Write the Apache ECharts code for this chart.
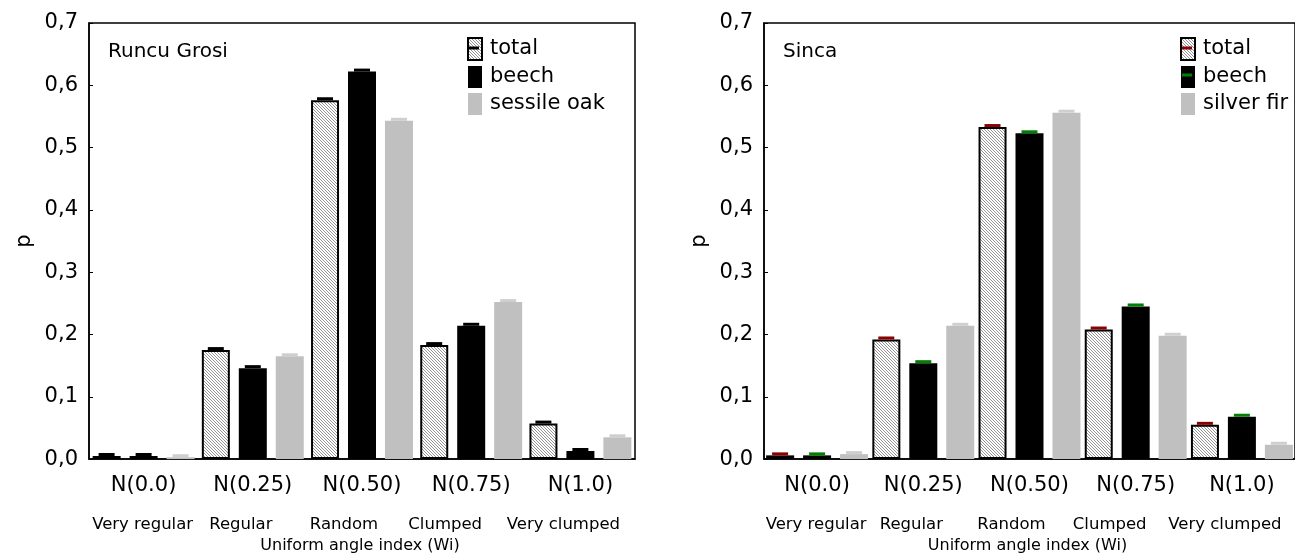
<!DOCTYPE html>
<html><head><meta charset="utf-8">
<script src="https://cdn.jsdelivr.net/npm/echarts@6/dist/echarts.min.js"></script>
<style>html,body{margin:0;padding:0;background:#fff}#c{width:1295px;height:559px}</style>
</head><body><div id="c"></div>
<script>
// ---- data ----
const categories = ['N(0.0)', 'N(0.25)', 'N(0.50)', 'N(0.75)', 'N(1.0)'];
const classLabels = ['Very regular', 'Regular', 'Random', 'Clumped', 'Very clumped'];
const xTitle = 'Uniform angle index (Wi)';
const yTitle = 'p';

const runcuTitle = 'Runcu Grosi';
const runcuNames = ['total', 'beech', 'sessile oak'];
const runcuTotal = [0.005, 0.175, 0.576, 0.183, 0.057];
const runcuBeech = [0.005, 0.146, 0.622, 0.214, 0.013];
const runcuOak   = [0.003, 0.165, 0.543, 0.252, 0.035];

const sincaTitle = 'Sinca';
const sincaNames = ['total', 'beech', 'silver fir'];
const sincaTotal = [0.006, 0.192, 0.533, 0.208, 0.055];
const sincaBeech = [0.006, 0.154, 0.523, 0.245, 0.068];
const sincaFir   = [0.008, 0.214, 0.556, 0.198, 0.023];

// ---- styling ----
const FONT = 'DejaVu Sans';
function hatchCanvas() {
  const n = 3;
  const c = document.createElement('canvas');
  c.width = n; c.height = n;
  const g = c.getContext('2d');
  g.fillStyle = '#ffffff'; g.fillRect(0, 0, n, n);
  g.fillStyle = '#939393';
  for (let i = 0; i < n; i++) g.fillRect(i, i, 1, 1);
  return c;
}
const hatch = { image: hatchCanvas(), repeat: 'repeat' };

// horizontal shift (px) of the class labels relative to the category centres
const classShift = [-1, -12, -18, -26, -17];

const BAR_W = 28, GAP = 9;
const panels = [
  { left: 89, title: runcuTitle, names: runcuNames, data: [runcuTotal, runcuBeech, runcuOak],
    caps: ['#000000', '#000000', '#cfcfcf'], legendLeft: 467, dash: ['#000000', null] },
  { left: 764, title: sincaTitle, names: sincaNames, data: [sincaTotal, sincaBeech, sincaFir],
    caps: ['#8b0000', '#008000', '#cfcfcf'], legendLeft: 1180, dash: ['#8b0000', '#008000'] }
];
const GRID_TOP = 23, GRID_H = 440, GRID_W = 546;
const LEG_TOP = 37, LEG_H = 22, LEG_GAP = 5;

const rich = {};
classShift.forEach((s, i) => {
  rich['c' + i] = { fontSize: 16.5, fontFamily: FONT, color: '#000',
    padding: s < 0 ? [0, -2 * s, 0, 0] : [0, 0, 0, 2 * s] };
});

const grid = [], xAxis = [], yAxis = [], series = [], legend = [], graphic = [];
panels.forEach((p, pi) => {
  grid.push({ left: p.left, top: GRID_TOP, width: GRID_W, height: GRID_H, show: true,
    borderColor: '#000', borderWidth: 1.5, backgroundColor: 'transparent' });
  xAxis.push({ type: 'category', gridIndex: pi, data: categories,
    axisLine: { lineStyle: { color: '#000', width: 1.5 } }, axisTick: { show: false },
    axisLabel: { color: '#000', fontSize: 21, fontFamily: FONT, margin: 16, interval: 0 } });
  xAxis.push({ type: 'category', gridIndex: pi, data: classLabels, position: 'bottom',
    axisLine: { show: false }, axisTick: { show: false },
    axisLabel: { interval: 0, margin: 57, rich,
      formatter: (v, i) => '{c' + i + '|' + v + '}' },
    name: xTitle, nameLocation: 'middle', nameGap: 78,
    nameTextStyle: { color: '#000', fontSize: 16, fontFamily: FONT, padding: [0, 4, 0, 0] } });
  yAxis.push({ type: 'value', gridIndex: pi, min: 0, max: 0.7, interval: 0.1,
    axisLine: { show: true, lineStyle: { color: '#000', width: 1.5 } },
    axisTick: { show: true, inside: true, length: 4, lineStyle: { color: '#000' } },
    splitLine: { show: false },
    axisLabel: { color: '#000', fontSize: 21, fontFamily: FONT, margin: 11,
      formatter: v => v.toFixed(1).replace('.', ',') },
    name: yTitle, nameLocation: 'middle', nameGap: 54,
    nameTextStyle: { color: '#000', fontSize: 21, fontFamily: FONT } });

  const styles = [
    { color: hatch, borderColor: '#000', borderWidth: 2 },
    { color: '#000' },
    { color: '#c0c0c0' }
  ];
  p.names.forEach((nm, si) => {
    series.push({ type: 'bar', name: nm, xAxisIndex: pi * 2, yAxisIndex: pi,
      data: p.data[si], barWidth: BAR_W, barGap: (GAP / BAR_W * 100).toFixed(0) + '%',
      itemStyle: styles[si], emphasis: { disabled: true }, animation: false });
  });
  p.names.forEach((nm, si) => {
    const off = (si - 1) * (BAR_W + GAP);
    const col = p.caps[si];
    series.push({ type: 'custom', name: nm + ' error', xAxisIndex: pi * 2, yAxisIndex: pi,
      z: 5, silent: true, animation: false,
      data: p.data[si].map((v, i) => [i, v]),
      renderItem: (params, api) => {
        const pt = api.coord([api.value(0), api.value(1)]);
        return { type: 'rect', shape: { x: pt[0] + off - 8, y: pt[1] - 3, width: 16, height: 3 },
          style: { fill: col } };
      } });
  });
  legend.push({ data: p.names, orient: 'vertical', left: p.legendLeft, top: LEG_TOP, padding: 0,
    itemWidth: 14, itemHeight: LEG_H, itemGap: LEG_GAP, icon: 'rect', selectedMode: false,
    textStyle: { color: '#000', fontSize: 21, fontFamily: FONT, padding: [0, 0, 0, 3] } });
  p.dash.forEach((c, k) => {
    if (!c) return;
    const cy = LEG_TOP + k * (LEG_H + LEG_GAP) + LEG_H / 2;
    graphic.push({ type: 'rect', left: p.legendLeft + 2, top: cy - 1.5,
      shape: { width: 10, height: 3 }, style: { fill: c }, z: 100 });
  });
  graphic.push({ type: 'text', left: p.left + 19, top: 42,
    style: { text: p.title, fill: '#000', fontSize: 20, fontFamily: FONT } });
});

const chart = echarts.init(document.getElementById('c'), null, { renderer: 'canvas' });
chart.setOption({ animation: false, grid, xAxis, yAxis, series, legend, graphic });
</script></body></html>
